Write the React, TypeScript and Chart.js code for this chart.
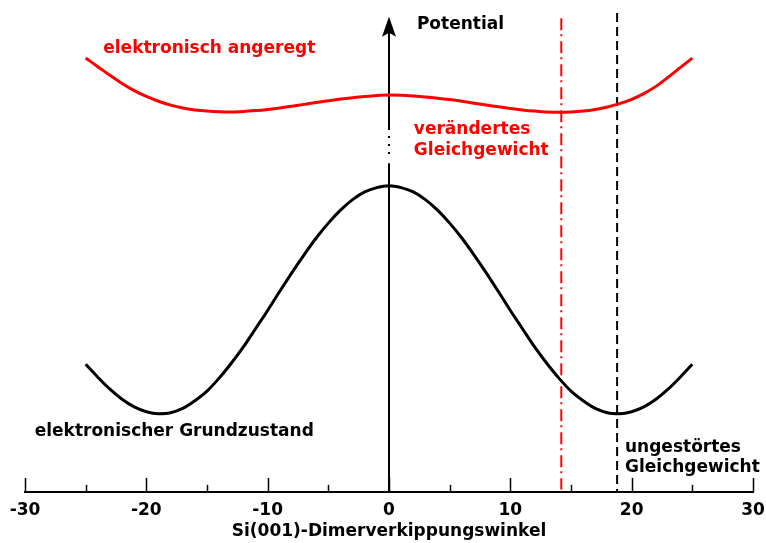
import React, { useEffect, useRef } from "react";
import { Chart, registerables } from "chart.js";

Chart.register(...registerables);

// Dimer tilt angle (degrees)
const angles = [
  -25, -24, -23, -22, -21, -20, -19, -18, -17, -16, -15, -14, -13, -12, -11, -10, -9, -8, -7, -6, -5, -4, -3, -2, -1,
  0, 1, 2, 3, 4, 5, 6, 7, 8, 9, 10, 11, 12, 13, 14, 15, 16, 17, 18, 19, 20, 21, 22, 23, 24, 25,
];

// electronic ground state potential (arb. units)
const groundState = [
  26.6, 23.9, 21.4, 19.3, 17.7, 16.7, 16.3, 16.5, 17.4, 19.0, 21.0, 23.7, 26.8, 30.2, 34.0, 37.8, 41.8, 45.7, 49.4, 52.9,
  56.0, 58.7, 60.9, 62.5, 63.4, 63.8, 63.4, 62.5, 60.9, 58.7, 56.0, 52.9, 49.4, 45.7, 41.8, 37.8, 34.0, 30.2, 26.8, 23.7,
  21.0, 19.0, 17.4, 16.5, 16.3, 16.7, 17.7, 19.3, 21.4, 23.9, 26.6,
];

// electronically excited potential (arb. units)
const excitedState = [
  90.4, 88.6, 86.8, 85.1, 83.6, 82.4, 81.4, 80.6, 80.0, 79.6, 79.35, 79.2, 79.15, 79.25, 79.45, 79.7, 80.0, 80.35, 80.75,
  81.15, 81.5, 81.85, 82.15, 82.4, 82.6, 82.7, 82.65, 82.5, 82.3, 82.05, 81.75, 81.4, 81.0, 80.6, 80.25, 79.9, 79.6,
  79.35, 79.15, 79.1, 79.15, 79.35, 79.7, 80.2, 80.9, 81.8, 83.0, 84.5, 86.4, 88.4, 90.4,
];

const xMin = -30;
const xMax = 30;
const majorTicks = [-30, -20, -10, 0, 10, 20, 30];
const minorTicks = [-25, -15, -5, 5, 15, 25];

const changedEquilibrium = 14.2;
const undisturbedEquilibrium = 18.8;

// potential axis segments (y values)
const axisLower = [0, 68.5];
const axisDotted = [70.4, 75.0];
const axisUpper = [75.4, 97.5];
const axisTip = 99;

const changedLine = [98.7, 0.5];
const undisturbedLine = [99.8, 0];

const annotationTexts = ["Potential", "elektronisch angeregt", "verändertes", "Gleichgewicht", "elektronischer Grundzustand", "ungestörtes", "Gleichgewicht"];
const annotationX = [2.3, -23.55, 2.05, 2.05, -29.2, 19.45, 19.45];
const annotationY = [96.4, 91.4, 74.6, 70.2, 11.6, 8.3, 4.1];
const annotationColors = ["#000000", "#ff0000", "#ff0000", "#ff0000", "#000000", "#000000", "#000000"];

const FONT = '"DejaVu Sans", sans-serif';

const overlayPlugin = {
  id: "overlay",
  afterDraw(chart: any) {
    const { ctx, scales } = chart;
    const xs = scales.x;
    const ys = scales.y;
    const bottom = ys.getPixelForValue(0);
    ctx.save();
    // tick marks pointing inward
    ctx.strokeStyle = "#000";
    ctx.lineWidth = 1.5;
    const drawTick = (v: number, len: number) => {
      const px = Math.round(xs.getPixelForValue(v)) + 0.5;
      ctx.beginPath();
      ctx.moveTo(px, bottom);
      ctx.lineTo(px, bottom - len);
      ctx.stroke();
    };
    majorTicks.forEach((v) => drawTick(v, 14));
    minorTicks.forEach((v) => drawTick(v, 7));

    // arrow head of potential axis
    const ax = xs.getPixelForValue(0);
    const ay = ys.getPixelForValue(axisTip);
    ctx.fillStyle = "#000";
    ctx.beginPath();
    ctx.moveTo(ax, ay);
    ctx.lineTo(ax + 7, ay + 20);
    ctx.lineTo(ax, ay + 16);
    ctx.lineTo(ax - 7, ay + 20);
    ctx.closePath();
    ctx.fill();

    // annotations
    ctx.font = `bold 17px ${FONT}`;
    ctx.textAlign = "left";
    ctx.textBaseline = "alphabetic";
    annotationTexts.forEach((t, i) => {
      ctx.fillStyle = annotationColors[i];
      ctx.fillText(t, xs.getPixelForValue(annotationX[i]), ys.getPixelForValue(annotationY[i]));
    });
    ctx.restore();
  },
};

const vline = (x: number, ys: number[]) => ys.map((y) => ({ x, y }));

export default function App() {
  const ref = useRef<HTMLCanvasElement | null>(null);

  useEffect(() => {
    if (!ref.current) return;
    const chart = new Chart(ref.current, {
      type: "line",
      data: {
        datasets: [
          {
            label: "elektronischer Grundzustand",
            data: angles.map((a, i) => ({ x: a, y: groundState[i] })),
            borderColor: "#000000",
            borderWidth: 3,
            pointRadius: 0,
            cubicInterpolationMode: "monotone",
          },
          {
            label: "elektronisch angeregt",
            data: angles.map((a, i) => ({ x: a, y: excitedState[i] })),
            borderColor: "#ff0000",
            borderWidth: 3,
            pointRadius: 0,
            cubicInterpolationMode: "monotone",
          },
          {
            label: "axis-lower",
            data: vline(0, axisLower),
            borderColor: "#000000",
            borderWidth: 2,
            pointRadius: 0,
          },
          {
            label: "axis-dotted",
            data: vline(0, axisDotted),
            borderColor: "#000000",
            borderWidth: 2,
            pointRadius: 0,
            borderDash: [2, 6],
          },
          {
            label: "axis-upper",
            data: vline(0, axisUpper),
            borderColor: "#000000",
            borderWidth: 2,
            pointRadius: 0,
          },
          {
            label: "verändertes Gleichgewicht",
            data: vline(changedEquilibrium, changedLine),
            borderColor: "#ff0000",
            borderWidth: 2,
            pointRadius: 0,
            borderDash: [12, 4, 2, 5],
          },
          {
            label: "ungestörtes Gleichgewicht",
            data: vline(undisturbedEquilibrium, undisturbedLine),
            borderColor: "#000000",
            borderWidth: 2,
            pointRadius: 0,
            borderDash: [9, 5],
          },
        ],
      },
      options: {
        responsive: false,
        animation: false,
        layout: { padding: { left: 25, right: 13, top: 12, bottom: 0 } },
        plugins: { legend: { display: false }, tooltip: { enabled: false } },
        scales: {
          x: {
            type: "linear",
            min: xMin,
            max: xMax,
            grid: { display: false, drawTicks: false, tickLength: 0 },
            border: { display: true, color: "#000", width: 2 },
            afterBuildTicks: (axis: any) => {
              axis.ticks = majorTicks.map((v) => ({ value: v }));
            },
            ticks: {
              color: "#000",
              padding: 1,
              font: { family: FONT, size: 17, weight: "bold", lineHeight: 2.06 },
            },
            title: {
              display: true,
              text: "Si(001)-Dimerverkippungswinkel",
              color: "#000",
              padding: { top: 0, bottom: 8 },
              font: { family: FONT, size: 17, weight: "bold", lineHeight: 0.36 },
            },
          },
          y: {
            type: "linear",
            display: false,
            min: 0,
            max: 100,
          },
        },
      },
      plugins: [overlayPlugin],
    } as any);
    return () => chart.destroy();
  }, []);

  return (
    <div style={{ position: "fixed", left: 0, top: 0, width: 766, height: 543, background: "#fff" }}>
      <canvas ref={ref} width={766} height={543} style={{ display: "block" }} />
    </div>
  );
}
